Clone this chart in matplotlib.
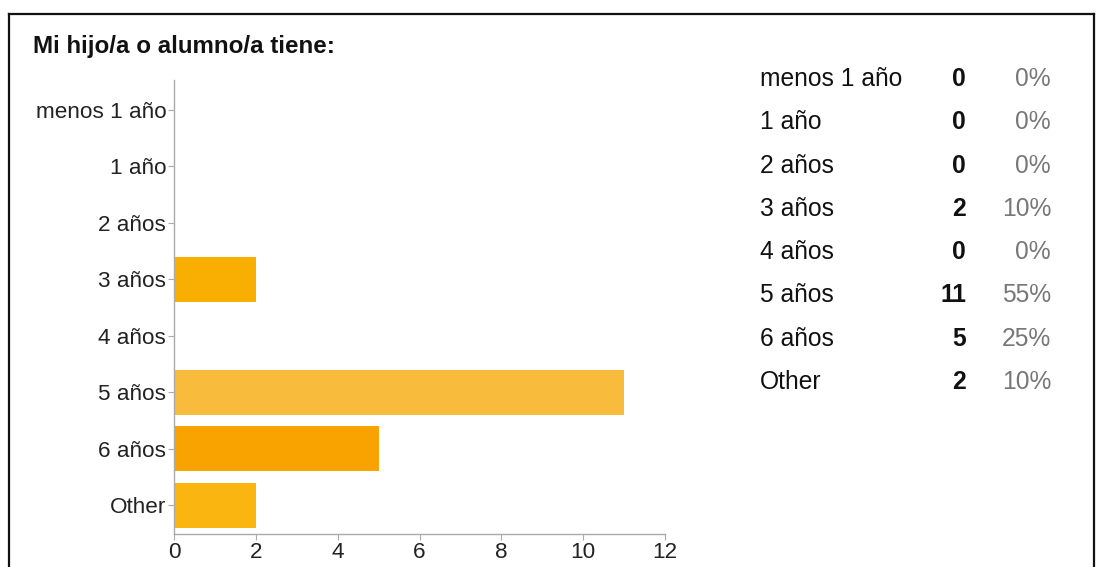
import matplotlib.pyplot as plt
from matplotlib.lines import Line2D

plt.rcParams['font.family'] = ['Liberation Sans', 'DejaVu Sans']

# data
categories = ["menos 1 año", "1 año", "2 años", "3 años", "4 años", "5 años", "6 años", "Other"]
counts = [0, 0, 0, 2, 0, 11, 5, 2]
percents = ["0%", "0%", "0%", "10%", "0%", "55%", "25%", "10%"]
bar_colors = ["#F9AF02", "#F9AF02", "#F9AF02", "#F9AF02", "#F9AF02", "#F9BB3B", "#F8A300", "#FAB511"]
x_ticks = [0, 2, 4, 6, 8, 10, 12]
title = "Mi hijo/a o alumno/a tiene:"

W, H = 1106, 567
fig = plt.figure(figsize=(W / 100, H / 100), dpi=100)


def fx(px):
    return px / W


def fy(py):
    return 1 - py / H


# frame around the card (bottom edge is cut off in the picture)
frame = dict(color="#111111", lw=1.6, transform=fig.transFigure)
fig.add_artist(Line2D([fx(9), fx(9)], [fy(14), -0.05], **frame))
fig.add_artist(Line2D([fx(9), fx(1094)], [fy(14), fy(14)], **frame))
fig.add_artist(Line2D([fx(1094), fx(1094)], [fy(14), -0.05], **frame))

fig.text(fx(33), fy(46), title, fontsize=17.4, fontweight="bold", color="#111111",
         va="center", ha="left")

# bar chart
ax = fig.add_axes([fx(174), fy(534), fx(665) - fx(174), fy(80) - fy(534)])
ypos = list(range(len(categories)))
ax.barh(ypos, counts, height=0.8, color=bar_colors, edgecolor="none")
ax.set_ylim(len(categories) - 0.49, -0.53)
ax.set_xlim(0, 12)
ax.set_yticks(ypos)
ax.set_yticklabels(categories)
ax.set_xticks(x_ticks)
for s in ["top", "right"]:
    ax.spines[s].set_visible(False)
for s in ["left", "bottom"]:
    ax.spines[s].set_color("#aaaaaa")
    ax.spines[s].set_linewidth(1.0)
ax.tick_params(axis="y", length=4, color="#aaaaaa", labelsize=16.2, labelcolor="#222222", pad=1.5)
ax.tick_params(axis="x", length=4, color="#aaaaaa", labelsize=16.2, labelcolor="#222222", pad=2)

# summary table on the right
row_y0, row_step = 79, 43.3
for i, (cat, c, p) in enumerate(zip(categories, counts, percents)):
    y = fy(row_y0 + i * row_step)
    fig.text(fx(760), y, cat, fontsize=17.7, color="#111111", va="center", ha="left")
    fig.text(fx(966), y, str(c), fontsize=17.7, fontweight="bold", color="#111111",
             va="center", ha="right")
    fig.text(fx(1051), y, p, fontsize=17.7, color="#777777", va="center", ha="right")

fig.savefig("out.png", dpi=100, facecolor="white")
